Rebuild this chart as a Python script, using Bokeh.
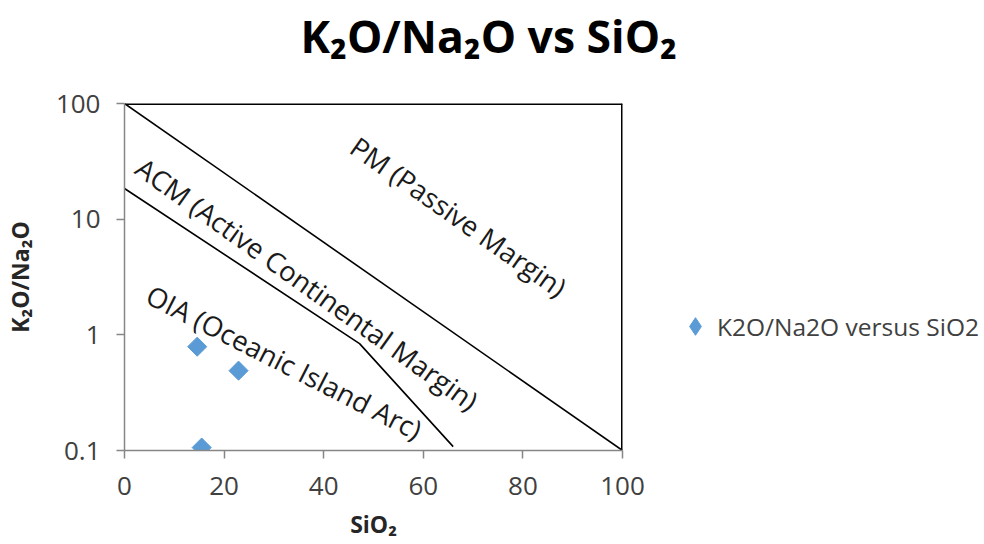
import numpy as np
from bokeh.plotting import figure
from bokeh.models import Label, Legend, LegendItem, FixedTicker, Range1d, CustomJSTickFormatter, Title
from bokeh.embed import file_html
from bokeh.resources import INLINE

# ---- data ----
sio2 = [14.6, 15.5, 22.9]
k2o_na2o = [0.79, 0.106, 0.49]
series_name = "K2O/Na2O versus SiO2"

pm_x = [0, 100]
pm_y = [100, 0.1]
acm_x = [0, 47.2, 66.0]
acm_y = [18.4, 0.84, 0.108]
top_x = [0, 100]
top_y = [100, 100]
right_x = [100, 100]
right_y = [100, 0.1]

x_ticks = [0, 20, 40, 60, 80, 100]
y_ticks = [0.1, 1, 10, 100]
y_tick_labels = ["0.1", "1", "10", "100"]

field_names = ["PM (Passive Margin)", "ACM (Active Continental Margin)", "OIA (Oceanic Island Arc)"]
field_x = [67.1, 36.7, 32.1]
field_y = [10.5, 2.75, 0.58]
field_angle_deg = [-35.0, -35.5, -27.0]

title_text = "K\u2082O/Na\u2082O vs SiO\u2082"
x_label = "SiO\u2082"
y_label = "K\u2082O/Na\u2082O"

FONT = "Open Sans"
BLUE = "#5B9BD5"
AXIS_GRAY = "#868686"
TEXT_GRAY = "#404040"

p = figure(frame_width=498, frame_height=347,
           x_range=Range1d(0, 100), y_range=Range1d(0.1, 100),
           y_axis_type="log", output_backend="svg", toolbar_location=None,
           title_location=None,
           min_border_left=123, min_border_top=103, min_border_bottom=86,
           min_border_right=361)
p.outline_line_color = None
p.xgrid.visible = False
p.ygrid.visible = False

# spacer panel between the title and the frame (blank)
p.add_layout(Title(text=" ", text_font_size="10px", standoff=23), "above")
main_title = Title(text=title_text, align="left", vertical_align="top", offset=176, standoff=0,
                   text_font=FONT, text_font_style="bold", text_font_size="44.5px",
                   text_color="black")
p.add_layout(main_title, "above")

for ax in (p.xaxis[0], p.yaxis[0]):
    ax.axis_line_color = AXIS_GRAY
    ax.axis_line_width = 1.5
    ax.major_tick_line_color = AXIS_GRAY
    ax.major_tick_line_width = 1.5
    ax.major_tick_out = 8
    ax.major_tick_in = 0
    ax.minor_tick_line_color = None
    ax.major_label_text_font = FONT
    ax.major_label_text_font_size = "26px"
    ax.major_label_text_color = TEXT_GRAY
    ax.axis_label_text_font = FONT
    ax.axis_label_text_font_style = "bold"
    ax.axis_label_text_font_size = "23px"
    ax.axis_label_text_color = "#262626"

p.xaxis.ticker = FixedTicker(ticks=x_ticks)
p.yaxis.ticker = FixedTicker(ticks=y_ticks)
p.yaxis.formatter = CustomJSTickFormatter(args=dict(tvals=y_ticks, tlabels=y_tick_labels), code="""
    for (let i = 0; i < tvals.length; i++) {
        if (Math.abs(Math.log10(tick) - Math.log10(tvals[i])) < 1e-6) return tlabels[i];
    }
    return String(tick);
""")
p.xaxis.axis_label = x_label
p.yaxis.axis_label = y_label
p.xaxis.axis_label_standoff = 10
p.yaxis.axis_label_standoff = 17
p.xaxis.major_label_standoff = 18
p.yaxis.major_label_standoff = 16

# field boundaries
p.line(pm_x, pm_y, line_color="black", line_width=1.6)
p.line(acm_x, acm_y, line_color="black", line_width=1.6)
p.line(top_x, top_y, line_color="black", line_width=3)
p.line(right_x, right_y, line_color="black", line_width=3)

r = p.scatter(sio2, k2o_na2o, marker="square", angle=np.pi / 4, size=13.5,
              fill_color=BLUE, line_color=BLUE)
# legend swatch only (diamond key); its single point is NaN so it draws nothing in the plot
r_key = p.scatter(x=[np.nan], y=[np.nan], marker="diamond", fill_color=BLUE, line_color=BLUE)

for name, fx, fy, fa in zip(field_names, field_x, field_y, field_angle_deg):
    p.add_layout(Label(x=fx, y=fy, text=name, angle=np.deg2rad(fa),
                       text_align="center", text_baseline="middle",
                       text_font=FONT, text_font_size="27.5px", text_color="#1a1a1a"))

legend = Legend(items=[LegendItem(label=series_name, renderers=[r_key])],
                location=(51, 102), border_line_color=None, background_fill_alpha=0,
                margin=0, padding=0, label_text_font=FONT, label_text_font_size="24.5px",
                label_text_color=TEXT_GRAY, label_standoff=0, glyph_width=44, glyph_height=44)
p.add_layout(legend, "right")

open("out.html", "w").write(file_html(p, INLINE))
